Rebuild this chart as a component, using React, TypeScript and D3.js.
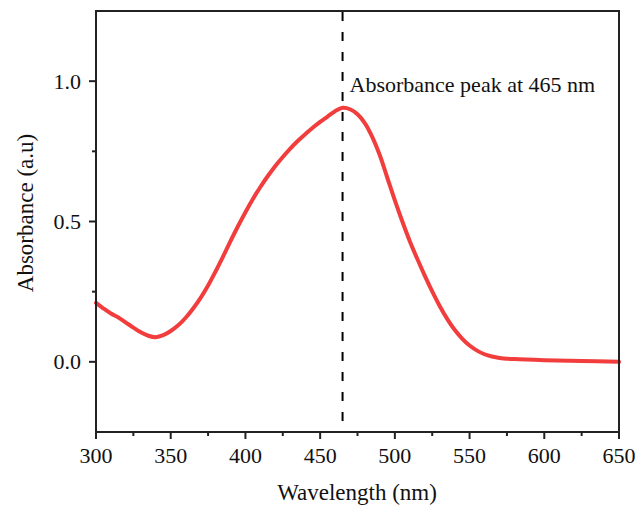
import React from "react";
import * as d3 from "d3";

const wavelength = [300, 305, 310, 315, 320, 325, 330, 335, 340, 345, 350, 355, 360, 365, 370, 375, 380, 385, 390, 395, 400, 405, 410, 415, 420, 425, 430, 435, 440, 445, 450, 455, 460, 465, 470, 475, 480, 485, 490, 495, 500, 505, 510, 515, 520, 525, 530, 535, 540, 545, 550, 555, 560, 565, 570, 580, 600, 625, 650];
const absorbance = [0.21, 0.19, 0.172, 0.158, 0.14, 0.122, 0.105, 0.093, 0.088, 0.095, 0.11, 0.13, 0.157, 0.19, 0.228, 0.272, 0.322, 0.375, 0.43, 0.483, 0.533, 0.58, 0.623, 0.662, 0.698, 0.73, 0.76, 0.787, 0.811, 0.834, 0.855, 0.874, 0.893, 0.905, 0.9, 0.882, 0.85, 0.8, 0.735, 0.655, 0.575, 0.5, 0.43, 0.367, 0.307, 0.251, 0.199, 0.153, 0.114, 0.083, 0.058, 0.04, 0.027, 0.019, 0.014, 0.01, 0.006, 0.003, 0.0];
const xTicks = [300, 350, 400, 450, 500, 550, 600, 650];
const xMinorTicks = [325, 375, 425, 475, 525, 575, 625];
const yTicks = [0.0, 0.5, 1.0];
const yMinorTicks = [0.25, 0.75];
const peakWavelength = 465;
const peakLabel = "Absorbance peak at 465 nm";
const xTitle = "Wavelength (nm)";
const yTitle = "Absorbance (a.u)";

export default function App() {
  const W = 636, H = 506;
  const left = 96, right = 619, top = 11, bottom = 432;
  const x = d3.scaleLinear().domain([300, 650]).range([left, right]);
  const y = d3.scaleLinear().domain([-0.25, 1.25]).range([bottom, top]);
  const pts = wavelength.map((w, i) => [w, absorbance[i]] as [number, number]);
  const line = d3.line<[number, number]>().x(d => x(d[0])).y(d => y(d[1])).curve(d3.curveCatmullRom.alpha(0.5));
  const font = "'Liberation Serif', 'Times New Roman', serif";
  return (
    <svg width={W} height={H} style={{ position: "absolute", left: 0, top: 0, background: "#fff" }} fontFamily={font}>
      <rect x={0} y={0} width={W} height={H} fill="#fff" />
      <path d={line(pts) || ""} fill="none" stroke="#f23d3d" strokeWidth={4} strokeLinejoin="round" strokeLinecap="round" />
      <line x1={x(peakWavelength)} x2={x(peakWavelength)} y1={top} y2={bottom} stroke="#000" strokeWidth={2} strokeDasharray="9,11" strokeDashoffset={-1} />
      <text x={x(peakWavelength) + 7} y={92} fontSize={22} fill="#111">{peakLabel}</text>
      <rect x={left} y={top} width={right - left} height={bottom - top} fill="none" stroke="#222" strokeWidth={2} />
      {xTicks.map(t => (
        <g key={"xt" + t}>
          <line x1={x(t)} x2={x(t)} y1={bottom} y2={bottom + 7} stroke="#222" strokeWidth={2} />
          <text x={x(t)} y={463} fontSize={22} textAnchor="middle" fill="#111">{t}</text>
        </g>
      ))}
      {xMinorTicks.map(t => (
        <line key={"xm" + t} x1={x(t)} x2={x(t)} y1={bottom} y2={bottom + 4} stroke="#222" strokeWidth={2} />
      ))}
      {yTicks.map(t => (
        <g key={"yt" + t}>
          <line x1={left} x2={left - 7} y1={y(t)} y2={y(t)} stroke="#222" strokeWidth={2} />
          <text x={left - 15} y={y(t) + 7.5} fontSize={22} textAnchor="end" fill="#111">{t.toFixed(1)}</text>
        </g>
      ))}
      {yMinorTicks.map(t => (
        <line key={"ym" + t} x1={left} x2={left - 4} y1={y(t)} y2={y(t)} stroke="#222" strokeWidth={2} />
      ))}
      <text x={357} y={500} fontSize={23} textAnchor="middle" fill="#111">{xTitle}</text>
      <text transform={`translate(33, 213) rotate(-90)`} fontSize={23} textAnchor="middle" fill="#111">{yTitle}</text>
    </svg>
  );
}
